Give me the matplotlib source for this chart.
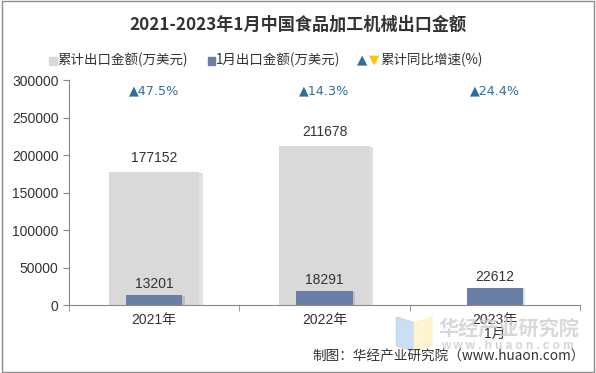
import numpy as np
import matplotlib.pyplot as plt
from matplotlib.patches import Polygon

plt.rcParams['font.family'] = ['Liberation Sans', 'Noto Sans CJK SC', 'DejaVu Sans']

# 数据
cats = ['2021年', '2022年', '2023年\n1月']
cum_val = [177152, 211678, None]
month_val = [13201, 18291, 22612]
growth = ['47.5%', '14.3%', '24.4%']
yticks = [0, 50000, 100000, 150000, 200000, 250000, 300000]

c_gray = '#D9D9D9'
c_blue = '#6A7FA6'
c_tri = '#2E6F99'
c_axis = '#898989'

fig = plt.figure(figsize=(5.96, 3.73), dpi=100)
ax = fig.add_axes([0.1158, 0.1823, 0.8572, 0.6032])
x = np.arange(len(cats))

# 阴影 + 柱子
for i, v in enumerate(cum_val):
    if v is None:
        continue
    ax.bar(x[i] + 0.02, v - 1500, width=0.53, bottom=0, color='#000000', alpha=0.12, zorder=1)
    ax.bar(x[i], v, width=0.53, color=c_gray, zorder=2)
    ax.text(x[i], v + 10000, f'{v}', ha='center', va='bottom', fontsize=10, color='#333333')
for i, v in enumerate(month_val):
    ax.bar(x[i] + 0.015, v - 600, width=0.33, color='#000000', alpha=0.12, zorder=3)
    ax.bar(x[i], v, width=0.33, color=c_blue, zorder=4)
    ax.text(x[i], v + 6000, f'{v}', ha='center', va='bottom', fontsize=10, color='#333333')

for i, g in enumerate(growth):
    ax.text(x[i], 285000, '▲' + g, ha='center', va='center', fontsize=9.2, color=c_tri,
            family=['DejaVu Sans'])

ax.set_xlim(-0.5, 2.5)
ax.set_ylim(0, 300000)
ax.set_yticks(yticks)
ax.set_yticklabels([str(t) for t in yticks], fontsize=10, color='#333333')
ax.set_xticks(x)
ax.set_xticklabels(cats, fontsize=10, color='#333333', linespacing=1.0)
ax.tick_params(axis='x', length=0, pad=6)
ax.set_xticks([-0.5, 0.5, 1.5, 2.5], minor=True)
ax.tick_params(axis='x', which='minor', length=4, color=c_axis)
ax.tick_params(axis='y', length=4, color=c_axis)
for s in ['top', 'right']:
    ax.spines[s].set_visible(False)
ax.spines['left'].set_color(c_axis)
ax.spines['bottom'].set_color(c_axis)

# 标题
fig.text(0.5, 0.935, '2021-2023年1月中国食品加工机械出口金额', ha='center', va='center',
         fontsize=12.3, fontweight='bold', color='#333333', family=['Noto Sans CJK SC'])

# 图例
ly = 0.839
fs_leg = 9.7
fig.patches.append(plt.Rectangle((0.083, ly - 0.013), 0.012, 0.022, color=c_gray, transform=fig.transFigure))
fig.text(0.097, ly, '累计出口金额(万美元)', va='center', fontsize=fs_leg, color='#333333', family=['Noto Sans CJK SC'])
fig.patches.append(plt.Rectangle((0.349, ly - 0.013), 0.012, 0.022, color=c_blue, transform=fig.transFigure))
fig.text(0.362, ly, '1月出口金额(万美元)', va='center', fontsize=fs_leg, color='#333333', family=['Noto Sans CJK SC'])
fig.text(0.599, ly, '▲', va='center', fontsize=fs_leg, color=c_tri, family=['DejaVu Sans'])
fig.text(0.619, ly, '▼', va='center', fontsize=fs_leg, color='#FFC000', family=['DejaVu Sans'])
fig.text(0.638, ly, '累计同比增速(%)', va='center', fontsize=fs_leg, color='#333333', family=['Noto Sans CJK SC'])

# 水印
fig.patches.append(Polygon([[0.665, 0.150], [0.695, 0.135], [0.695, 0.058], [0.665, 0.073]],
                           closed=True, color='#BDD7EE', alpha=0.8, transform=fig.transFigure))
fig.patches.append(Polygon([[0.695, 0.135], [0.725, 0.150], [0.725, 0.073], [0.695, 0.058]],
                           closed=True, color='#FFF2CC', alpha=0.9, transform=fig.transFigure))
fig.text(0.735, 0.12, '华经产业研究院', fontsize=14.5, fontweight='bold', color='#CFCFCF', alpha=0.8,
         va='center', family=['Noto Sans CJK SC'])
fig.text(0.74, 0.072, 'w w w . h u a o n . c o m', fontsize=8.5, fontweight='bold', color='#D5D5D5',
         va='center')

fig.text(0.982, 0.045, '制图：华经产业研究院（www.huaon.com）', ha='right', va='center', fontsize=9.8,
         color='#333333', family=['Noto Sans CJK SC'])

# 外框
fig.patches.append(plt.Rectangle((0.003, 0.004), 0.994, 0.992, fill=False, edgecolor='#8C8C8C',
                                 linewidth=1, transform=fig.transFigure))

fig.savefig('out.png', dpi=100)
